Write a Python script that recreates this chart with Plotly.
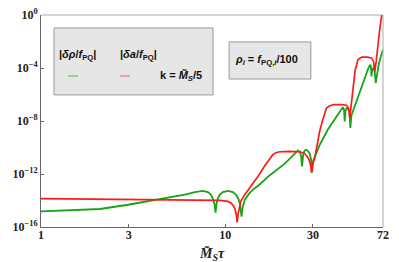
import plotly.graph_objects as go

# Data (x = M_S tau, values as log10 of the amplitude)
red_x = [1.00, 2.09, 3.90, 7.29, 9.36, 10.35, 10.74, 11.02, 11.30, 11.48,
         11.62, 11.77, 11.94, 12.17, 12.79, 13.62, 14.50, 15.43, 16.42, 17.49,
         18.15, 18.84, 19.81, 22.45, 25.43, 26.73, 27.74, 28.56, 29.10, 29.43,
         29.80, 30.69, 31.98, 32.66, 33.90, 35.51, 36.99, 38.89, 42.98, 45.58,
         46.61, 47.13, 47.49, 48.09, 49.31, 50.87, 52.69, 55.21, 59.47, 62.52,
         63.97, 64.92, 66.11, 67.42, 69.09, 70.79, 72.0]
red_logy = [-13.86, -13.89, -13.90, -13.94, -13.99, -14.07, -14.19, -14.34, -14.62, -15.00,
            -15.65, -15.00, -14.47, -14.05, -13.56, -13.03, -12.56, -11.98, -11.37, -10.81,
            -10.54, -10.39, -10.32, -10.29, -10.32, -10.43, -10.62, -10.92, -11.30, -11.90,
            -11.30, -10.77, -9.41, -8.73, -7.90, -7.02, -6.85, -6.77, -6.77, -6.81,
            -7.00, -7.30, -7.77, -7.15, -5.64, -4.13, -3.37, -3.18, -3.18, -3.26,
            -3.52, -4.28, -3.52, -2.24, -1.11, -0.05, 0.0]

green_x = [1.00, 1.63, 2.09, 2.97, 4.26, 6.04, 6.85, 7.57, 8.06, 8.36,
           8.58, 8.74, 8.87, 8.98, 9.13, 9.36, 9.72, 10.35, 11.02, 11.43,
           11.80, 12.06, 12.27, 12.47, 12.79, 13.12, 13.62, 14.50, 15.43, 17.49,
           21.09, 23.90, 24.80, 25.43, 25.85, 26.16, 26.50, 26.90, 27.42, 28.11,
           28.82, 29.30, 29.66, 30.10, 31.07, 32.66, 36.08, 39.39, 42.47, 43.53,
           44.20, 44.59, 45.05, 45.62, 46.61, 47.36, 47.86, 48.49, 49.31, 53.79,
           57.30, 60.23, 61.56, 61.91, 62.35, 62.88, 63.68, 64.78, 65.77, 66.60,
           68.22, 69.95, 72.0]
green_logy = [-14.82, -14.73, -14.64, -14.32, -13.94, -13.56, -13.37, -13.28, -13.37, -13.56,
              -13.86, -14.24, -14.92, -14.24, -13.86, -13.56, -13.36, -13.28, -13.37, -13.56,
              -13.86, -14.32, -15.22, -14.47, -13.94, -13.71, -13.41, -13.07, -12.77, -12.09,
              -11.22, -10.47, -10.24, -10.32, -10.62, -11.43, -10.62, -10.28, -10.17, -10.24,
              -10.47, -10.92, -11.88, -11.00, -10.47, -9.79, -8.66, -7.83, -7.15, -6.96,
              -7.15, -8.03, -7.22, -7.03, -7.07, -7.37, -8.53, -7.60, -7.30, -5.79,
              -4.73, -3.94, -3.75, -3.90, -4.63, -4.13, -4.02, -4.20, -5.13, -4.51,
              -3.75, -3.15, -2.62]

x_ticks = [1, 3, 10, 30, 72]
y_ticks_exp = [0, -4, -8, -12, -16]

red_y = [10 ** v for v in red_logy]
green_y = [10 ** v for v in green_logy]

GREEN = "#16a516"
RED = "#ff1a1a"

fig = go.Figure()
fig.add_trace(go.Scatter(x=green_x, y=green_y, mode="lines",
                         line=dict(color=GREEN, width=1.8), showlegend=False, cliponaxis=False))
fig.add_trace(go.Scatter(x=red_x, y=red_y, mode="lines",
                         line=dict(color=RED, width=1.7), showlegend=False, cliponaxis=False))

serif = "Liberation Serif"
sans = "Liberation Sans"

fig.update_xaxes(type="log", range=[0, 1.8573], tickvals=x_ticks, automargin=False,
                 ticktext=[f"<b>{t}</b>" for t in x_ticks],
                 tickfont=dict(family=serif, size=12, color="#222"),
                 showgrid=False, zeroline=False, showline=True, linecolor="#666", linewidth=1,
                 ticks="inside", ticklen=3, tickcolor="#666", ticklabelstandoff=-3)
fig.update_yaxes(type="log", range=[-16, 0], tickvals=[10 ** e for e in y_ticks_exp], automargin=False,
                 ticktext=[f"<b>10<sup>{'\u2212' + str(-e) if e < 0 else e}</sup></b>" for e in y_ticks_exp],
                 tickfont=dict(family=serif, size=12, color="#222"),
                 showgrid=False, zeroline=False, showline=True, linecolor="#666", linewidth=1,
                 ticks="inside", ticklen=3, tickcolor="#666")

shapes = [
    dict(type="line", xref="paper", yref="paper", x0=0, x1=1, y0=1, y1=1,
         line=dict(color="#aaa", width=1)),
    dict(type="line", xref="paper", yref="paper", x0=1, x1=1, y0=0, y1=1,
         line=dict(color="#aaa", width=1)),
    dict(type="rect", xref="paper", yref="paper", x0=0.038, x1=0.503, y0=0.623, y1=0.939,
         fillcolor="#e6e6e6", line=dict(color="#999", width=1)),
    dict(type="rect", xref="paper", yref="paper", x0=0.550, x1=0.789, y0=0.698, y1=0.873,
         fillcolor="#e6e6e6", line=dict(color="#999", width=1)),
    dict(type="line", xref="paper", yref="paper", x0=0.079, x1=0.108, y0=0.712, y1=0.712,
         line=dict(color="#7ccc7c", width=1.5)),
    dict(type="line", xref="paper", yref="paper", x0=0.231, x1=0.260, y0=0.712, y1=0.712,
         line=dict(color="#f28a8a", width=1.5)),
]

tf = dict(family=sans, size=11, color="#111")
annotations = [
    dict(xref="paper", yref="paper", x=0.047, y=0.811, showarrow=False, font=tf,
         xanchor="left", yanchor="middle",
         text="<b>|<i>\u03b4\u03c1</i>/<i>f</i><sub>PQ</sub>|</b>"),
    dict(xref="paper", yref="paper", x=0.225, y=0.811, showarrow=False, font=tf,
         xanchor="left", yanchor="middle",
         text="<b>|<i>\u03b4a</i>/<i>f</i><sub>PQ</sub>|</b>"),
    dict(xref="paper", yref="paper", x=0.342, y=0.712, showarrow=False, font=tf,
         xanchor="left", yanchor="middle",
         text="<b>k = <i>M\u0303<sub>S</sub></i>/5</b>"),
    dict(xref="paper", yref="paper", x=0.561, y=0.788, showarrow=False, font=tf,
         xanchor="left", yanchor="middle",
         text="<b><i>\u03c1<sub>i</sub></i> = <i>f</i><sub>PQ,<i>i</i></sub>/100</b>"),
    dict(xref="paper", yref="paper", x=0.5, y=-0.125, showarrow=False,
         xanchor="center", yanchor="middle",
         font=dict(family=serif, size=14, color="#222"),
         text="<b><i>M\u0303<sub>S</sub>\u03c4</i></b>"),
]

fig.update_layout(width=399, height=262, margin=dict(l=41, r=16, t=15, b=35),
                  paper_bgcolor="white", plot_bgcolor="white",
                  shapes=shapes, annotations=annotations, showlegend=False)

fig.write_html("out.html", config={"displayModeBar": False},
               post_script="document.body.style.margin='0';document.body.style.overflow='hidden';")
